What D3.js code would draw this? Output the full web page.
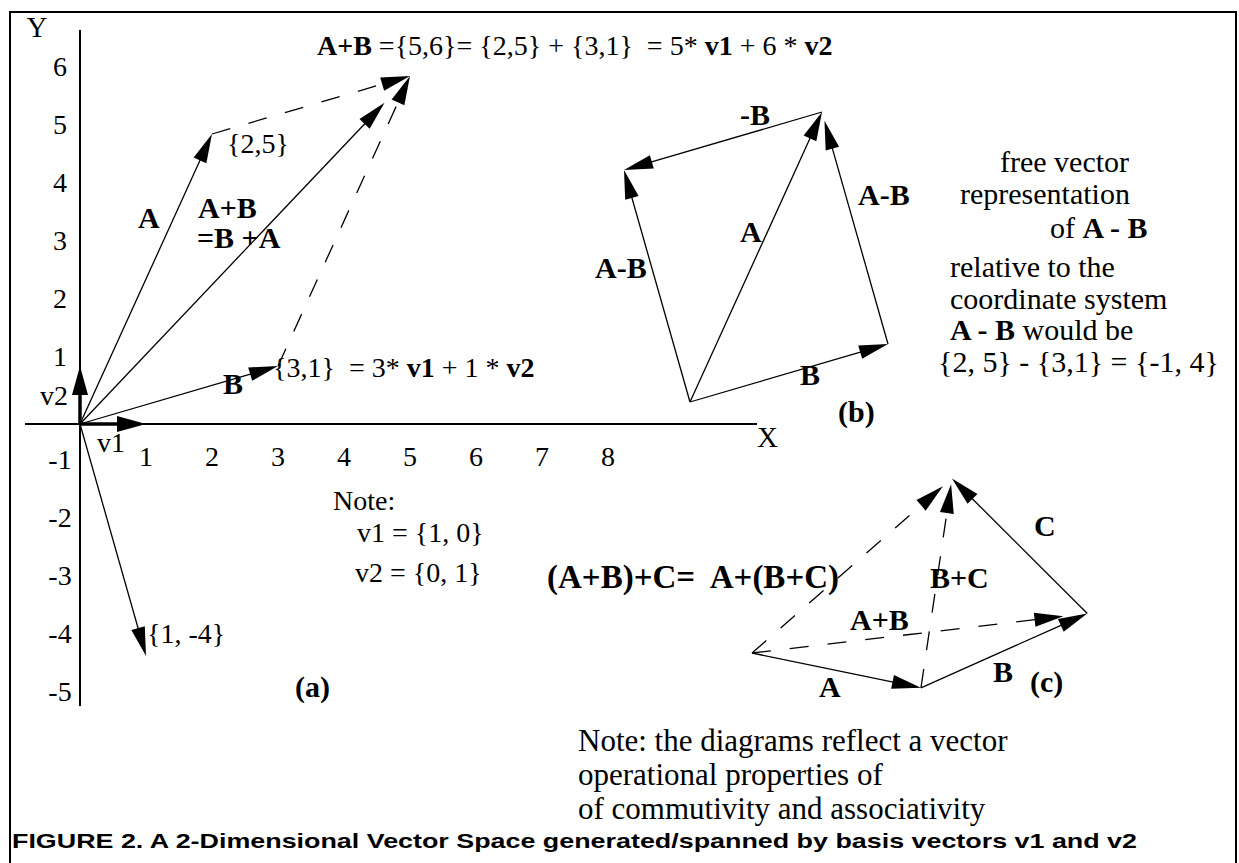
<!DOCTYPE html>
<html>
<head>
<meta charset="utf-8">
<script src="https://cdn.jsdelivr.net/npm/d3@7/dist/d3.min.js"></script>
<style>
  body { margin: 0; background: #fff; }
  svg { display: block; }
  text { font-family: "Liberation Serif", "Times New Roman", serif; fill: #000; white-space: pre; }
  .b { font-weight: bold; }
  .caption { font-family: "Liberation Sans", Arial, sans-serif; font-weight: bold; }
</style>
</head>
<body>
<svg id="fig" width="1239" height="863"></svg>
<script>
// ---- data ----
// (a) coordinate system
const xTicks = [1, 2, 3, 4, 5, 6, 7, 8];
const yTicks = [6, 5, 4, 3, 2, 1, -1, -2, -3, -4, -5];
const v1 = [1, 0];
const v2 = [0, 1];
const vecA = [2, 5];
const vecB = [3, 1];
const vecAB = [5, 6];
const vecD = [1, -4];
// (c) free vectors
const cA = [2.56, -0.6];
const cB = [2.52, 1.28];
const cC = [-2.05, 2.33];

const svg = d3.select("#fig");

// one unit on each axis
const x = d3.scaleLinear().domain([0, 1]).range([80, 146]);
const y = d3.scaleLinear().domain([0, 1]).range([424, 366]);

// frame
svg.append("path")
    .attr("d", "M10,863 L10,12 L1236,12 L1236,863")
    .attr("fill", "none").attr("stroke", "#000").attr("stroke-width", 2);

// draws vector from p to q (data units); heads drawn as triangles
function arrow(g, p, q, opt = {}) {
    let x1 = x(p[0]), y1 = y(p[1]), x2 = x(q[0]), y2 = y(q[1]);
    let dx = x2 - x1, dy = y2 - y1, len = Math.hypot(dx, dy);
    let ux = dx / len, uy = dy / len;
    if (opt.shorten) { x2 -= ux * opt.shorten; y2 -= uy * opt.shorten; }
    let hl = 29, hw = opt.thick ? 8 : 7;
    let bx = x2 - ux * hl, by = y2 - uy * hl;
    g.append("line")
        .attr("x1", x1).attr("y1", y1)
        .attr("x2", bx + ux * 2).attr("y2", by + uy * 2)
        .attr("stroke", "#000")
        .attr("stroke-width", opt.thick ? 3.5 : 1.3)
        .attr("stroke-dasharray", opt.dashed ? "19,19" : null);
    g.append("path")
        .attr("d", `M${x2},${y2} L${bx - uy * hw},${by + ux * hw} L${bx + uy * hw},${by - ux * hw} Z`)
        .attr("fill", "#000");
}

function label(t, px, py, size, cls) {
    return svg.append("text").attr("x", px).attr("y", py)
        .attr("font-size", size).attr("class", cls || null).text(t);
}

// ---- (a) ----
const ga = svg.append("g");
ga.append("line").attr("x1", 80).attr("x2", 80).attr("y1", 30).attr("y2", 706)
    .attr("stroke", "#000").attr("stroke-width", 2);
ga.append("line").attr("x1", 25).attr("x2", 757).attr("y1", y(0)).attr("y2", y(0))
    .attr("stroke", "#000").attr("stroke-width", 2);

ga.selectAll(".xt").data(xTicks).join("text")
    .attr("x", d => x(d)).attr("y", y(0) + 42)
    .attr("text-anchor", "middle").attr("font-size", 28).text(d => d);
ga.selectAll(".yt").data(yTicks).join("text")
    .attr("x", 60).attr("y", d => d > 0 ? y(d) : y(d) - 13)
    .attr("text-anchor", "middle").attr("font-size", 28).text(d => d);

label("Y", 37, 37, 29).attr("text-anchor", "middle");
label("X", 757, 447, 29);

arrow(ga, [0, 0], vecA);
arrow(ga, [0, 0], vecB);
arrow(ga, [0, 0], vecAB, {shorten: 37});
arrow(ga, [0, 0], vecD);
arrow(ga, vecA, vecAB, {dashed: true});
arrow(ga, vecB, vecAB, {dashed: true});
arrow(ga, [0, 0], v1, {thick: true});
arrow(ga, [0, 0], v2, {thick: true});

label("v2", 40, 405, 28);
label("v1", 97, 452, 28);
label("{2,5}", 227, 153, 28);
label("A", 138, 228, 30, "b");
label("A+B", 198, 218, 30, "b");
label("=B +A", 197, 248, 30, "b");
label("B", 223, 394, 30, "b");
label("{1, -4}", 147, 643, 28);
label("Note:", 333, 510, 28);
label("v1 = {1, 0}", 357, 542, 28);
label("v2 = {0, 1}", 355, 582, 28);
label("(a)", 295, 697, 30, "b");

let t1 = label("", 273, 377, 28);
t1.append("tspan").text("{3,1}  = 3* ");
t1.append("tspan").attr("class", "b").text("v1");
t1.append("tspan").text(" + 1 * ");
t1.append("tspan").attr("class", "b").text("v2");

let t0 = label("", 317, 55, 28);
t0.append("tspan").attr("class", "b").text("A+B");
t0.append("tspan").text(" ={5,6}= {2,5} + {3,1}  = 5* ");
t0.append("tspan").attr("class", "b").text("v1");
t0.append("tspan").text(" + 6 * ");
t0.append("tspan").attr("class", "b").text("v2");

// ---- (b) free vectors, same units ----
const gb = svg.append("g").attr("transform", "translate(610,-22)");
const aMinusB = [vecA[0] - vecB[0], vecA[1] - vecB[1]];
arrow(gb, [0, 0], vecA);
arrow(gb, [0, 0], vecB);
arrow(gb, vecB, vecA, {shorten: 9});
arrow(gb, vecA, aMinusB);
arrow(gb, [0, 0], aMinusB);

label("-B", 740, 125, 30, "b");
label("A-B", 595, 278, 30, "b");
label("A", 740, 242, 30, "b");
label("A-B", 858, 205, 30, "b");
label("B", 800, 385, 30, "b");
label("(b)", 838, 422, 30, "b");

let r = [["free vector", 1000, 172], ["representation", 960, 204], ["relative to the", 950, 277],
         ["coordinate system", 950, 309], ["{2, 5} - {3,1} = {-1, 4}", 938, 372]];
r.forEach(d => label(d[0], d[1], d[2], 30));
let r1 = label("of ", 1050, 238, 30);
r1.append("tspan").attr("class", "b").text("A - B");
let r2 = label("", 950, 340, 30);
r2.append("tspan").attr("class", "b").text("A - B");
r2.append("tspan").text(" would be");

// ---- (c) associativity ----
const gc = svg.append("g").attr("transform", "translate(672,229)");
const p1 = cA, p2 = [cA[0] + cB[0], cA[1] + cB[1]];
const p3 = [p2[0] + cC[0], p2[1] + cC[1]];
arrow(gc, [0, 0], p1);
arrow(gc, p1, p2);
arrow(gc, p2, p3);
arrow(gc, [0, 0], p2, {dashed: true, shorten: 24});
arrow(gc, p1, p3, {dashed: true, shorten: 6});
arrow(gc, [0, 0], p3, {dashed: true, shorten: 12});

label("(A+B)+C=  A+(B+C)", 547, 588, 33, "b");
label("C", 1034, 536, 30, "b");
label("B+C", 930, 588, 30, "b");
label("A+B", 850, 630, 30, "b");
label("A", 819, 697, 30, "b");
label("B", 993, 682, 30, "b");
label("(c)", 1030, 692, 30, "b");

// ---- notes & caption ----
label("Note: the diagrams reflect a vector", 578, 751, 31);
label("operational properties of", 578, 785, 31);
label("of commutivity and associativity", 578, 819, 31);
label("FIGURE 2. A 2-Dimensional Vector Space generated/spanned by basis vectors v1 and v2", 12, 848, 21, "caption")
    .attr("textLength", 1125).attr("lengthAdjust", "spacingAndGlyphs");
</script>
</body>
</html>
